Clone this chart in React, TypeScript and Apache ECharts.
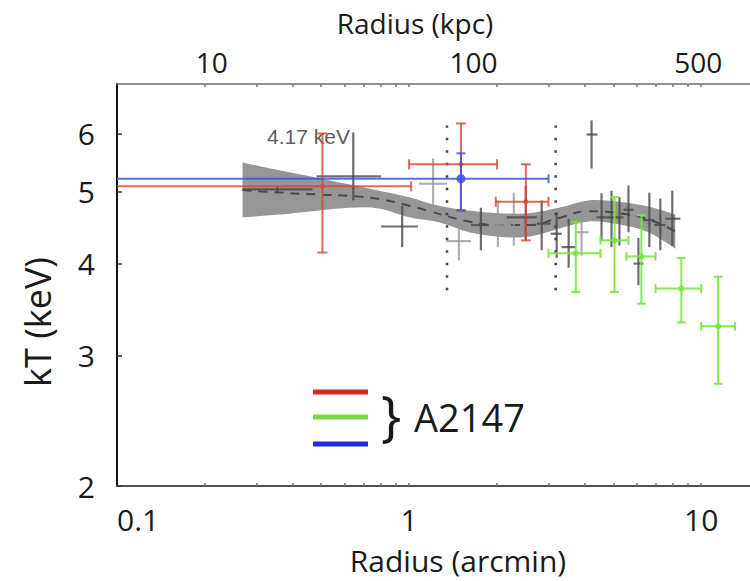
import React, { useEffect, useRef } from "react";
import * as echarts from "echarts";

// ---------- axes ----------
const X_MIN = 0.1;
const X_MAX = 14.69;
const Y_MIN = 2;
const Y_MAX = 7;
const xTickLabels = [0.1, 1, 10];
const xTickMarks = [0.2, 0.3, 0.4, 0.5, 0.6, 0.7, 0.8, 0.9, 1, 2, 3, 4, 5, 6, 7, 8, 9, 10];
const yTickLabels = [2, 3, 4, 5, 6];
const kpcLabels = ["10", "100", "500"];
const kpcLabelAtArcmin = [0.211, 1.66, 9.77];

// ---------- data: [r, kT, rLo, rHi, kTLo, kTHi] ----------
const grayDark = [
  [0.354, 5.04, 0.269, 0.467, 4.99, 5.09],
  [0.644, 5.25, 0.482, 0.802, 4.87, 6.02],
  [0.947, 4.49, 0.802, 1.073, 4.21, 4.79],
  [1.761, 4.51, 1.628, 1.875, 4.17, 4.76],
  [2.508, 4.62, 2.16, 2.734, 4.3, 5.1],
  [2.844, 4.53, 2.734, 3.052, 4.17, 4.87],
  [3.2, 4.39, 3.052, 3.329, 4.07, 4.69],
  [3.517, 4.21, 3.329, 3.715, 3.95, 4.6],
  [4.213, 5.98, 4.051, 4.416, 5.38, 6.25],
  [4.558, 4.62, 4.381, 4.74, 4.3, 4.98],
  [4.93, 4.62, 4.74, 5.088, 4.21, 5.02],
  [5.25, 4.62, 5.088, 5.418, 4.23, 4.92],
  [5.636, 4.73, 5.418, 5.862, 4.41, 5.1],
  [6.095, 4.0, 5.862, 6.339, 3.74, 4.33],
  [6.645, 4.58, 6.339, 6.911, 4.21, 4.99],
  [7.244, 4.51, 6.911, 7.536, 4.17, 4.9],
  [7.962, 4.6, 7.536, 8.48, 4.23, 5.02],
];
const grayLight = [
  [1.208, 5.13, 1.082, 1.348, 4.68, 5.55],
  [1.481, 4.29, 1.338, 1.628, 4.04, 4.72],
  [2.013, 4.51, 1.875, 2.127, 4.21, 4.87],
  [2.283, 4.6, 2.143, 2.412, 4.23, 4.99],
  [3.894, 4.41, 3.715, 4.115, 4.1, 4.72],
];
const redPts = [
  [0.505, 5.09, 0.1, 1.016, 4.14, 6.0],
  [1.505, 5.45, 1.0, 2.0, 4.72, 6.19],
  [2.51, 4.85, 1.98, 3.0, 4.3, 5.45],
];
const bluePts = [[1.505, 5.21, 0.1, 3.0, 4.72, 5.64]];
const greenPts = [
  [3.72, 4.13, 3.0, 4.52, 3.66, 4.55],
  [5.05, 4.3, 4.52, 5.63, 3.66, 4.92],
  [6.24, 4.09, 5.55, 6.97, 3.53, 4.65],
  [8.55, 3.7, 6.97, 10.0, 3.33, 4.07],
  [11.43, 3.29, 10.0, 13.06, 2.75, 3.84],
];

// model band (shaded) and its central dashed profile
const bandR = [0.269, 0.36, 0.493, 0.624, 0.79, 1.0, 1.266, 1.603, 2.029, 2.568, 3.251, 4.115, 5.209, 6.594, 8.153];
const bandHigh = [5.48, 5.35, 5.22, 5.12, 5.02, 4.92, 4.79, 4.72, 4.68, 4.68, 4.76, 4.87, 4.85, 4.78, 4.66];
const bandLow = [4.62, 4.66, 4.72, 4.76, 4.75, 4.62, 4.55, 4.41, 4.35, 4.35, 4.46, 4.56, 4.52, 4.41, 4.19];
const modelKT = [5.03, 4.99, 4.96, 4.94, 4.89, 4.79, 4.67, 4.56, 4.51, 4.51, 4.61, 4.71, 4.68, 4.59, 4.42];

// dotted vertical markers
const dottedR = [1.348, 3.175];
const dottedKT = [3.68, 6.15];

const FONT = "'Open Sans', Lato, sans-serif";

// smooth filled band shape (Catmull-Rom through upper edge, back through lower edge)
function curveThrough(ctx: any, pts: number[][]) {
  for (let i = 0; i < pts.length - 1; i++) {
    const p0 = pts[i - 1] || pts[i];
    const p1 = pts[i];
    const p2 = pts[i + 1];
    const p3 = pts[i + 2] || p2;
    ctx.bezierCurveTo(
      p1[0] + (p2[0] - p0[0]) / 6,
      p1[1] + (p2[1] - p0[1]) / 6,
      p2[0] - (p3[0] - p1[0]) / 6,
      p2[1] - (p3[1] - p1[1]) / 6,
      p2[0],
      p2[1]
    );
  }
}
echarts.graphic.registerShape(
  "modelBand",
  (echarts.graphic as any).extendShape({
    shape: { top: [], bottom: [] },
    buildPath(ctx: any, shape: any) {
      const t: number[][] = shape.top;
      const b: number[][] = shape.bottom;
      if (!t.length) return;
      ctx.moveTo(t[0][0], t[0][1]);
      curveThrough(ctx, t);
      const br = b.slice().reverse();
      ctx.lineTo(br[0][0], br[0][1]);
      curveThrough(ctx, br);
      ctx.closePath();
    },
  })
);

function nearestLabel(values: number[], labels: string[], v: number) {
  let best = 0;
  let bd = Infinity;
  values.forEach((t, i) => {
    const d = Math.abs(Math.log10(t) - Math.log10(v));
    if (d < bd) {
      bd = d;
      best = i;
    }
  });
  return labels[best];
}

function errorBars(color: string, width: number, cap: number, marker: number) {
  return (params: any, api: any) => {
    const x = api.value(0);
    const y = api.value(1);
    const xlo = api.value(2);
    const xhi = api.value(3);
    const c = api.coord([x, y]);
    const l = api.coord([xlo, y]);
    const r = api.coord([xhi, y]);
    const b = api.coord([x, api.value(4)]);
    const t = api.coord([x, api.value(5)]);
    const style = { stroke: color, lineWidth: width, fill: null };
    const children: any[] = [
      { type: "line", shape: { x1: l[0], y1: c[1], x2: r[0], y2: c[1] }, style },
      { type: "line", shape: { x1: c[0], y1: b[1], x2: c[0], y2: t[1] }, style },
    ];
    if (cap > 0) {
      children.push(
        { type: "line", shape: { x1: c[0] - cap, y1: t[1], x2: c[0] + cap, y2: t[1] }, style },
        { type: "line", shape: { x1: c[0] - cap, y1: b[1], x2: c[0] + cap, y2: b[1] }, style },
        { type: "line", shape: { x1: r[0], y1: c[1] - cap, x2: r[0], y2: c[1] + cap }, style }
      );
      if (xlo > X_MIN) {
        children.push({ type: "line", shape: { x1: l[0], y1: c[1] - cap, x2: l[0], y2: c[1] + cap }, style });
      }
    }
    if (marker > 0) {
      children.push({ type: "circle", shape: { cx: c[0], cy: c[1], r: marker }, style: { fill: color } });
    }
    return { type: "group", children };
  };
}

function errSeries(name: string, data: number[][], color: string, width: number, cap: number, marker: number, z: number) {
  return {
    type: "custom",
    name,
    data,
    z,
    encode: { x: 0, y: 1 },
    renderItem: errorBars(color, width, cap, marker),
  };
}

export default function App() {
  const ref = useRef<HTMLDivElement>(null);

  useEffect(() => {
    document.body.style.margin = "0";
    if (!ref.current) return;
    const chart = echarts.init(ref.current, undefined, { renderer: "svg" });

    const legendColors = ["#d42a1e", "#78d83e", "#1f2fd8"];
    const legendY = [392, 417, 444];

    const bandData = bandR.map((r, i) => [r, bandLow[i], bandHigh[i]]);

    const option: any = {
      animation: false,
      backgroundColor: "#ffffff",
      grid: { left: 117, top: 84, width: 635, height: 402, containLabel: false },
      xAxis: [
        {
          type: "log",
          position: "bottom",
          min: X_MIN,
          max: X_MAX,
          axisLine: { show: true, lineStyle: { color: "#505050", width: 2 } },
          axisTick: { show: true, inside: true, length: 3, customValues: xTickMarks, lineStyle: { color: "#777", width: 1.5 } },
          axisLabel: {
            customValues: xTickLabels,
            alignMinLabel: "left",
            fontFamily: FONT,
            fontSize: 30,
            lineHeight: 30,
            color: "#1a1a1a",
            margin: 18,
            formatter: (v: number) => nearestLabel(xTickLabels, xTickLabels.map(String), v),
          },
          splitLine: { show: false },
        },
        {
          type: "log",
          position: "top",
          min: X_MIN,
          max: X_MAX,
          axisLine: { show: true, lineStyle: { color: "#707070", width: 1.5 } },
          axisTick: { show: true, inside: true, length: 3, customValues: xTickMarks, lineStyle: { color: "#777", width: 1.5 } },
          axisLabel: {
            customValues: kpcLabelAtArcmin,
            fontFamily: FONT,
            fontSize: 28,
            lineHeight: 28,
            color: "#1a1a1a",
            margin: 8,
            formatter: (v: number) => nearestLabel(kpcLabelAtArcmin, kpcLabels, v),
          },
          splitLine: { show: false },
        },
      ],
      yAxis: {
        type: "log",
        min: Y_MIN,
        max: Y_MAX,
        axisLine: { show: true, lineStyle: { color: "#111", width: 2 } },
        axisTick: { show: true, inside: true, length: 5, customValues: yTickLabels, lineStyle: { color: "#333", width: 1.5 } },
        axisLabel: {
          customValues: yTickLabels,
          fontFamily: FONT,
          fontSize: 30,
          lineHeight: 30,
          color: "#1a1a1a",
          margin: 22,
          formatter: (v: number) => nearestLabel(yTickLabels, yTickLabels.map(String), v),
        },
        splitLine: { show: false },
      },
      series: [
        {
          type: "custom",
          name: "band",
          z: 1,
          data: bandData,
          encode: { x: 0, y: [1, 2] },
          renderItem: (params: any, api: any) => {
            if (params.dataIndex !== 0) return null;
            const top = bandData.map((d) => api.coord([d[0], d[2]]));
            const bottom = bandData.map((d) => api.coord([d[0], d[1]]));
            return {
              type: "modelBand",
              shape: { top, bottom },
              style: { fill: "rgba(120,120,120,0.78)", stroke: null },
            };
          },
        },
        {
          type: "line",
          name: "model",
          smooth: true,
          symbol: "none",
          z: 2,
          lineStyle: { color: "#4a4a4a", width: 2, type: [9, 7] },
          data: bandR.map((r, i) => [r, modelKT[i]]),
        },
        ...dottedR.map((r, i) => ({
          type: "line",
          name: "dotted" + i,
          symbol: "none",
          z: 2,
          lineStyle: { color: "#444", width: 2.5, type: [2.5, 10] },
          data: dottedKT.map((k) => [r, k]),
        })),
        errSeries("gray-light", grayLight, "rgba(150,150,150,0.75)", 2.2, 0, 0, 3),
        errSeries("gray-dark", grayDark, "rgba(72,72,72,0.8)", 2.2, 0, 0, 4),
        errSeries("green", greenPts, "rgba(120,232,60,0.9)", 2, 4.5, 3, 5),
        errSeries("red", redPts, "rgba(218,72,50,0.82)", 2, 5, 2.5, 6),
        errSeries("blue", bluePts, "rgba(62,80,240,0.85)", 2, 4.5, 4.5, 7),
      ],
      graphic: [
        {
          type: "text",
          x: 415,
          y: 23,
          style: { text: "Radius (kpc)", font: `28px ${FONT}`, lineHeight: 28, fill: "#1a1a1a", textAlign: "center", textVerticalAlign: "middle" },
        },
        {
          type: "text",
          x: 458,
          y: 560,
          style: { text: "Radius (arcmin)", font: `30px ${FONT}`, lineHeight: 30, fill: "#1a1a1a", textAlign: "center", textVerticalAlign: "middle" },
        },
        {
          type: "text",
          x: 37,
          y: 322,
          rotation: Math.PI / 2,
          style: { text: "kT (keV)", font: `36px ${FONT}`, lineHeight: 36, fill: "#1a1a1a", textAlign: "center", textVerticalAlign: "middle" },
        },
        {
          type: "text",
          x: 267,
          y: 136,
          style: { text: "4.17 keV", font: "21px 'Liberation Sans', Arial, sans-serif", fill: "#5e5e5e", textAlign: "left", textVerticalAlign: "middle" },
        },
        ...legendColors.map((c, i) => ({
          type: "rect",
          z: 10,
          shape: { x: 313, y: legendY[i] - 2.5, width: 55, height: 5 },
          style: { fill: c },
        })),
        {
          type: "text",
          x: 381,
          y: 414,
          style: { text: "}", font: `54px ${FONT}`, lineHeight: 54, fill: "#1a1a1a", textAlign: "left", textVerticalAlign: "middle" },
        },
        {
          type: "text",
          x: 414,
          y: 417,
          style: { text: "A2147", font: `38px ${FONT}`, lineHeight: 38, fill: "#1a1a1a", textAlign: "left", textVerticalAlign: "middle" },
        },
      ],
    };

    chart.setOption(option);
    return () => chart.dispose();
  }, []);

  return <div ref={ref} style={{ width: 750, height: 581 }} />;
}
